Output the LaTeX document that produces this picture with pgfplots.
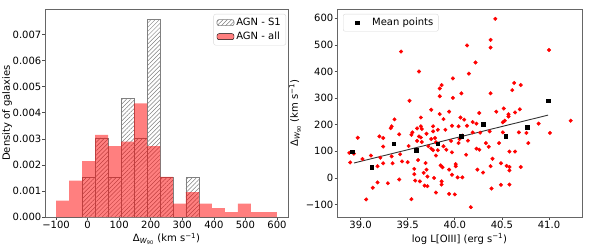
\documentclass[border=0pt]{standalone}
\usepackage{fontspec}
\setmainfont{DejaVu Sans}
\usepackage{pgfplots}
\pgfplotsset{compat=1.18}
\usetikzlibrary{patterns.meta}

\pgfplotstableread{
x y
38.88 94
38.89 58
38.93 91
38.97 151
39.02 71
39.06 -81
39.11 84
39.13 -37
39.18 44
39.18 -17
39.20 156
39.21 76
39.24 150
39.24 118
39.24 55
39.29 -20
39.32 187
39.33 194
39.33 81
39.34 55
39.36 220
39.41 164
39.42 89
39.44 62
39.41 -6
39.43 475
39.50 59
39.51 120
39.52 290
39.54 -80
39.54 162
39.55 171
39.57 14
39.57 34
39.58 -10
39.60 186
39.60 139
39.61 67
39.62 400
39.62 156
39.63 -13
39.64 227
39.64 194
39.65 184
39.64 152
39.65 135
39.67 19
39.68 -29
39.69 56
39.70 166
39.70 31
39.71 5
39.71 -31
39.72 119
39.75 256
39.75 146
39.75 110
39.77 194
39.77 175
39.77 104
39.78 0
39.79 150
39.80 84
39.80 -55
39.80 134
39.82 181
39.82 104
39.84 336
39.84 307
39.84 240
39.85 47
39.86 -13
39.86 349
39.86 -25
39.87 40
39.88 221
39.88 119
39.90 181
39.91 106
39.94 249
39.94 -60
39.94 31
39.96 139
39.97 196
39.97 12
39.97 96
39.98 374
39.98 301
40.00 -62
40.01 44
40.01 52
40.03 2
40.04 131
40.04 194
40.05 146
40.06 227
40.07 318
40.08 159
40.08 2
40.10 219
40.12 87
40.13 196
40.13 498
40.14 140
40.15 392
40.17 -110
40.19 210
40.19 171
40.22 434
40.23 204
40.23 110
40.24 31
40.26 244
40.27 170
40.26 106
40.30 20
40.33 131
40.36 117
40.37 175
40.38 519
40.38 490
40.38 318
40.38 44
40.39 -40
40.40 72
40.43 598
40.44 249
40.47 131
40.49 -26
40.49 55
40.51 209
40.51 171
40.52 261
40.53 215
40.55 45
40.57 239
40.57 231
40.58 99
40.58 41
40.58 28
40.58 -25
40.61 330
40.63 357
40.64 99
40.64 246
40.68 171
40.69 258
40.70 349
40.70 41
40.76 169
40.78 131
40.89 204
41.00 481
41.01 169
41.23 215
}\scatterdata

\pgfplotstableread{
x y
38.91 99
39.12 41
39.35 129
39.59 104
39.82 129
40.07 156
40.30 202
40.54 156
40.77 190
40.99 290
}\meandata

\pgfplotsset{
  myaxis/.style={
    scale only axis,
    anchor=south west,
    axis line style={black!60, line width=0.8pt},
    tick align=outside,
    tick pos=left,
    major tick length=2.5pt,
    tick style={black!70, line width=0.6pt},
    xticklabel style={inner sep=1pt},
    yticklabel style={inner sep=1pt},
    legend cell align=left,
    legend style={draw=black!15, rounded corners=2pt, fill=white,
      inner xsep=3pt, inner ysep=2pt, row sep=1pt},
  },
  patchleg/.style={legend image code/.code={\draw[##1] (0pt,-3pt) rectangle (17pt,3pt);}},
  markleg/.style={legend image code/.code={\path[draw=none,fill=none] (0pt,0pt) rectangle (24pt,0.1pt);\path[##1,draw=none] plot[only marks] coordinates {(11pt,0pt)};}},
}

\begin{document}
\begin{tikzpicture}[font=\fontsize{10}{12}\selectfont]
\useasboundingbox (0,0) rectangle (598pt,247pt);
\begin{axis}[myaxis,
  at={(45pt,30pt)}, width=243pt, height=208pt,
  xmin=-135, xmax=635, ymin=0, ymax=0.00798,
  xtick={-100,0,100,200,300,400,500,600},
  xticklabels={−100,0,100,200,300,400,500,600},
  ytick={0,0.001,0.002,0.003,0.004,0.005,0.006,0.007},
  yticklabels={0.000,0.001,0.002,0.003,0.004,0.005,0.006,0.007},
  scaled y ticks=false,
  xlabel={Δ\textsubscript{\textit{W}\textsubscript{90}} (km s\textsuperscript{−1})},
  ylabel={Density of galaxies},
  xlabel style={at={(axis description cs:0.5,-0.106)}, anchor=center},
  ylabel style={at={(axis description cs:-0.156,0.5)}, anchor=center},
  legend style={at={(0.992,0.976)}, anchor=north east},
]
\addplot[ybar interval, draw=black!50, line width=0.6pt,
  pattern={Lines[angle=45,distance=3pt,line width=0.5pt]}, pattern color=black!50, patchleg]
  coordinates {(-17.647,0.001518) (23.529,0.003036) (64.706,0.001518) (105.882,0.004553)
  (147.059,0.003036) (188.235,0.00759) (229.412,0.001518) (270.588,0)};
\addlegendentry{AGN - S1}
\addplot[ybar interval, draw=black!50, line width=0.6pt, forget plot,
  pattern={Lines[angle=45,distance=3pt,line width=0.5pt]}, pattern color=black!50]
  coordinates {(311.765,0.001518) (352.941,0)};
\addplot[ybar interval, fill=red, fill opacity=0.5, draw=none, patchleg]
  coordinates {(-100,0.00063) (-58.824,0.00140) (-17.647,0.00214) (23.529,0.00315)
  (64.706,0.00272) (105.882,0.00289) (147.059,0.00436) (188.235,0.00272)
  (229.412,0.00154) (270.588,0.00051) (311.765,0.00095) (352.941,0.00051)
  (394.118,0.00034) (435.294,0.00019) (476.471,0.00051) (517.647,0.00019)
  (558.824,0.00019) (600,0.00019)};
\addlegendentry{AGN - all}
\end{axis}

\begin{axis}[myaxis,
  at={(337pt,30pt)}, width=245pt, height=208pt,
  xmin=38.75, xmax=41.35, ymin=-147, ymax=635,
  xtick={39,39.5,40,40.5,41},
  xticklabels={39.0,39.5,40.0,40.5,41.0},
  ytick={-100,0,100,200,300,400,500,600},
  yticklabels={−100,0,100,200,300,400,500,600},
  xlabel={log L[OIII] (erg s\textsuperscript{−1})},
  ylabel={Δ\textsubscript{\textit{W}\textsubscript{90}} (km s\textsuperscript{−1})},
  xlabel style={at={(axis description cs:0.5,-0.106)}, anchor=center},
  ylabel style={at={(axis description cs:-0.171,0.5)}, anchor=center},
  legend style={at={(0.0245,0.976)}, anchor=north west},
]
\addplot[only marks, mark=*, mark size=1.8pt, red, forget plot] table[x=x,y=y] {\scatterdata};
\addplot[black!80, line width=0.9pt, forget plot] coordinates {(38.93,56) (40.99,236)};
\addplot[only marks, mark=square*, mark size=1.8pt, black, markleg] table[x=x,y=y] {\meandata};
\addlegendentry{Mean points}
\end{axis}
\end{tikzpicture}
\end{document}
